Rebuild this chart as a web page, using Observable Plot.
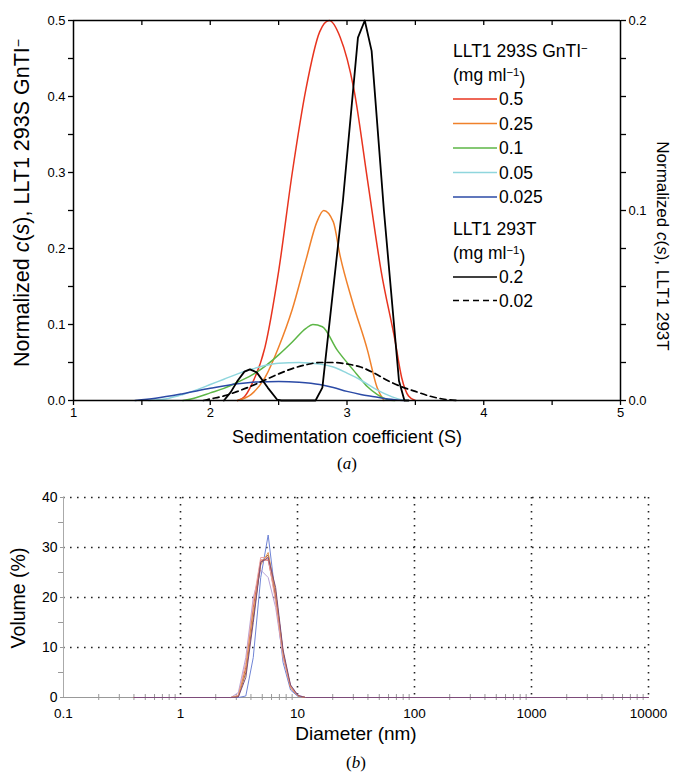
<!DOCTYPE html>
<html><head><meta charset="utf-8">
<script src="https://cdn.jsdelivr.net/npm/d3@7"></script>
<script src="https://cdn.jsdelivr.net/npm/@observablehq/plot@0.6"></script>
<style>
body{margin:0;background:#fff;font-family:"Liberation Sans",Arial,sans-serif;}
#wrap{width:682px;}
svg{display:block;}
</style></head><body><div id="wrap"></div>
<script>
// ---------- (a) c(s) distributions ----------
// LLT1 293S GnTI- concentrations (mg/ml), left axis
const gntiConc = ["0.5", "0.25", "0.1", "0.05", "0.025"];
const s_05 = [2.2, 2.25, 2.3, 2.4, 2.5, 2.6, 2.7, 2.8, 2.87, 2.95, 3.05, 3.15, 3.25, 3.35, 3.4, 3.45, 3.5];
const c_05 = [0, 0.005, 0.02, 0.07, 0.17, 0.30, 0.41, 0.485, 0.5, 0.478, 0.41, 0.29, 0.17, 0.08, 0.03, 0.006, 0];
const s_025 = [2.2, 2.3, 2.4, 2.5, 2.6, 2.7, 2.78, 2.83, 2.9, 2.95, 3.04, 3.15, 3.22, 3.27];
const c_025 = [0, 0.008, 0.03, 0.07, 0.12, 0.185, 0.235, 0.25, 0.235, 0.19, 0.13, 0.066, 0.017, 0];
const s_01 = [1.8, 1.9, 2.0, 2.1, 2.2, 2.3, 2.4, 2.5, 2.6, 2.7, 2.75, 2.82, 2.93, 3.0, 3.07, 3.15, 3.22, 3.3, 3.35];
const c_01 = [0, 0.004, 0.01, 0.016, 0.024, 0.033, 0.045, 0.06, 0.077, 0.095, 0.1, 0.097, 0.066, 0.05, 0.035, 0.018, 0.008, 0.001, 0];
const s_005 = [1.55, 1.7, 1.8, 1.9, 2.0, 2.1, 2.2, 2.3, 2.4, 2.5, 2.65, 2.8, 2.9, 3.0, 3.1, 3.2, 3.3, 3.4, 3.45];
const c_005 = [0, 0.003, 0.008, 0.014, 0.021, 0.028, 0.035, 0.041, 0.046, 0.049, 0.05, 0.048, 0.044, 0.036, 0.027, 0.016, 0.007, 0.001, 0];
const s_0025 = [1.45, 1.6, 1.8, 2.0, 2.2, 2.35, 2.5, 2.65, 2.8, 2.9, 3.0, 3.1, 3.2, 3.3, 3.42];
const c_0025 = [0, 0.003, 0.009, 0.016, 0.022, 0.0245, 0.025, 0.024, 0.021, 0.017, 0.012, 0.008, 0.005, 0.002, 0];
// LLT1 293T concentrations (mg/ml), right axis values
const t293Conc = ["0.2", "0.02"];
const s_02 = [2.1, 2.15, 2.2, 2.25, 2.29, 2.34, 2.42, 2.49, 2.52, 2.77, 2.82, 2.97, 3.08, 3.13, 3.18, 3.27, 3.38, 3.42, 3.45];
const c_02 = [0, 0.0044, 0.0104, 0.0152, 0.0164, 0.0148, 0.0068, 0.0004, 0, 0, 0.0068, 0.105, 0.191, 0.2, 0.184, 0.1, 0.0104, 0, 0];
const s_002 = [1.95, 2.0, 2.1, 2.2, 2.3, 2.4, 2.5, 2.6, 2.7, 2.8, 2.9, 3.0, 3.1, 3.2, 3.3, 3.4, 3.5, 3.6, 3.7, 3.8];
const c_002 = [0, 0.0008, 0.0024, 0.0048, 0.0076, 0.0108, 0.014, 0.0168, 0.0188, 0.02, 0.02, 0.0192, 0.0176, 0.0144, 0.0104, 0.0072, 0.0048, 0.0024, 0.0008, 0];

const xTicksA = [1, 2, 3, 4, 5];
const xMinorA = [1.5, 2.5, 3.5, 4.5];
const yTicksLeft = [0, 0.1, 0.2, 0.3, 0.4, 0.5];
const yMinorLeft = [0.05, 0.15, 0.25, 0.35, 0.45];
const yTicksRight = [0, 0.1, 0.2];
const yMinorRight = [0.02, 0.04, 0.06, 0.08, 0.12, 0.14, 0.16, 0.18];

// ---------- (b) DLS volume distributions ----------
const diam = [0.4, 2.696, 3.122, 3.615, 4.187, 4.849, 5.615, 6.503, 7.531, 8.721, 10.1, 11.7, 10000];
const vol1 = [0, 0, 0, 0.3, 8, 24, 32.5, 20, 7, 1.5, 0.2, 0, 0];
const vol2 = [0, 0, 1, 8, 20, 25.5, 24, 18, 8, 2.5, 0.5, 0, 0];
const vol3 = [0, 0, 0.2, 5, 16, 27, 28.5, 21, 9, 2, 0.3, 0, 0];
const vol4 = [0, 0, 0.3, 6, 18, 27.5, 27.5, 20, 8.5, 2, 0.3, 0, 0];
const vol5 = [0, 0, 0.5, 7, 19, 28, 28, 19, 8, 2, 0.3, 0, 0];
const vol6 = [0, 0, 0.3, 5.5, 17, 26.5, 29, 21, 9, 2.2, 0.3, 0, 0];
const vol7 = [0, 0, 0.1, 4, 15, 27, 28, 22, 9.5, 2.5, 0.4, 0, 0];
const xTicksB = [0.1, 1, 10, 100, 1000, 10000];
const yTicksB = [0, 10, 20, 30, 40];
const yMinorB = [5, 15, 25, 35];

// ---------- styles ----------
const gntiColors = ["#e8341f", "#f0812b", "#5cb646", "#8fd6dd", "#2b4aa6"];
const dlsColors = ["#6f84d6", "#b8a3d8", "#8b5a35", "#cf4b3d", "#e9a3a3", "#e39a57", "#7d4b7a"];
const RATIO = 2.5; // left units per right unit (0.5 vs 0.2)

const wrap = document.getElementById("wrap");

// ---- chart (a)
const gntiS = [s_05, s_025, s_01, s_005, s_0025];
const gntiC = [c_05, c_025, c_01, c_005, c_0025];
const toRows = (xs, ys, k) => xs.map((x, i) => ({s: x, c: ys[i], k}));

const marksA = [];
gntiS.forEach((xs, j) => {
  marksA.push(Plot.line(toRows(xs, gntiC[j], gntiConc[j]), {x: "s", y: "c", stroke: gntiColors[j], strokeWidth: 1.5, curve: "monotone-x"}));
});
marksA.push(Plot.line(toRows(s_002, c_002, "0.02"), {x: "s", y: d => d.c * RATIO, stroke: "#000", strokeWidth: 1.7, strokeDasharray: "6,4", curve: "monotone-x"}));
marksA.push(Plot.line(toRows(s_02, c_02, "0.2"), {x: "s", y: d => d.c * RATIO, stroke: "#000", strokeWidth: 1.8}));

const plotA = Plot.plot({
  width: 682, height: 478,
  marginLeft: 73, marginRight: 62, marginTop: 20, marginBottom: 78,
  style: {fontFamily: "Liberation Sans, Arial, sans-serif", fontSize: "13px", color: "#000", background: "#fff"},
  x: {domain: [1, 5], axis: null},
  y: {domain: [0, 0.5], axis: null},
  marks: [
    ...marksA,
    Plot.ruleY([0, 0.5], {stroke: "#000", strokeWidth: 1.5}),
    Plot.ruleX([1, 5], {stroke: "#000", strokeWidth: 1.5}),
    // left axis
    Plot.axisY({anchor: "left", ticks: yTicksLeft, tickSize: 5, tickPadding: 3, tickFormat: d3.format(".1f"), fontSize: 13, label: null, strokeWidth: 1.3}),
    Plot.axisY({anchor: "left", ticks: yMinorLeft, tickSize: 5, text: null, label: null, strokeWidth: 1.3}),
    // right axis
    Plot.axisY({anchor: "right", ticks: yTicksRight.map(v => v * RATIO), tickSize: 5, tickPadding: 3, tickFormat: d => (d / RATIO).toFixed(1), fontSize: 13, label: null, strokeWidth: 1.3}),
    Plot.axisY({anchor: "right", ticks: yMinorRight.map(v => v * RATIO), tickSize: 5, text: null, label: null, strokeWidth: 1.3}),
    // bottom axis
    Plot.axisX({anchor: "bottom", ticks: xTicksA, tickSize: 5, tickPadding: 2, fontSize: 13, label: null, strokeWidth: 1.3, tickFormat: d3.format("d")}),
    Plot.axisX({anchor: "bottom", ticks: xMinorA, tickSize: 5, text: null, label: null, strokeWidth: 1.3}),
    // top inward ticks
    Plot.ruleX([...xMinorA, 2, 3, 4], {x: d => d, y1: 0.5, y2: 0.5, insetBottom: -5, stroke: "#000", strokeWidth: 1.3})
  ]
});
wrap.appendChild(plotA);

// titles and legend for (a)
const svgA = d3.select(plotA);
const ff = "Liberation Sans, Arial, sans-serif";
function sup(t, str) { t.append("tspan").attr("dy", "-0.45em").attr("font-size", "0.65em").text(str); }

let t = svgA.append("text").attr("x", 347).attr("y", 443).attr("text-anchor", "middle").attr("font-size", 18).attr("font-family", ff).text("Sedimentation coefficient (S)");
t = svgA.append("text").attr("x", 347).attr("y", 469).attr("text-anchor", "middle").attr("font-size", 17).attr("font-family", "Liberation Serif, Times New Roman, serif");
t.append("tspan").text("(");
t.append("tspan").attr("font-style", "italic").text("a");
t.append("tspan").text(")");

// left title
t = svgA.append("text").attr("transform", "translate(29,203) rotate(-90)").attr("text-anchor", "middle").attr("font-size", 21.5).attr("font-family", ff);
t.append("tspan").text("Normalized ");
t.append("tspan").attr("font-style", "italic").text("c");
t.append("tspan").text("(");
t.append("tspan").attr("font-style", "italic").text("s");
t.append("tspan").text("), LLT1 293S GnTI");
sup(t, "−");
// right title
t = svgA.append("text").attr("transform", "translate(657,246) rotate(90)").attr("text-anchor", "middle").attr("font-size", 17).attr("font-family", ff);
t.append("tspan").text("Normalized ");
t.append("tspan").attr("font-style", "italic").text("c");
t.append("tspan").text("(");
t.append("tspan").attr("font-style", "italic").text("s");
t.append("tspan").text("), LLT1 293T");

// legend
const lg = svgA.append("g").attr("font-family", ff).attr("font-size", 17.5).attr("text-anchor", "start");
function header(y, main, supTxt) {
  const tt = lg.append("text").attr("x", 453).attr("y", y);
  tt.append("tspan").text(main);
  if (supTxt) sup(tt, supTxt);
}
function unitLine(y) {
  const tt = lg.append("text").attr("x", 453).attr("y", y);
  tt.append("tspan").text("(mg ml");
  tt.append("tspan").attr("dy", "-0.45em").attr("font-size", "0.65em").text("−1");
  tt.append("tspan").attr("dy", "0.45em").text(")");
}
header(57, "LLT1 293S GnTI", "−");
unitLine(81);
gntiConc.forEach((c, j) => {
  const y = 99 + j * 24.5;
  lg.append("line").attr("x1", 453).attr("x2", 497).attr("y1", y).attr("y2", y).attr("stroke", gntiColors[j]).attr("stroke-width", 1.5);
  lg.append("text").attr("x", 499).attr("y", y + 6.3).text(c);
});
header(235, "LLT1 293T");
unitLine(259);
t293Conc.forEach((c, j) => {
  const y = 277 + j * 23.5;
  lg.append("line").attr("x1", 453).attr("x2", 497).attr("y1", y).attr("y2", y).attr("stroke", "#000").attr("stroke-width", 1.7).attr("stroke-dasharray", j ? "6,4" : null);
  lg.append("text").attr("x", 499).attr("y", y + 6.3).text(c);
});

// ---- chart (b)
const vols = [vol1, vol2, vol3, vol4, vol5, vol6, vol7];
const marksB = vols.map((v, j) => Plot.line(diam.map((d, i) => ({d, v: v[i]})), {x: "d", y: "v", stroke: dlsColors[j], strokeWidth: 1}));

const xScaleTmp = d3.scaleLog().domain([0.1, 10000]);
const minorLog = xScaleTmp.ticks().filter(v => !xTicksB.includes(v));
const dotted = {stroke: "#222", strokeWidth: 1.6, strokeDasharray: "1.6,5.4"};

const plotB = Plot.plot({
  width: 682, height: 296,
  marginLeft: 63, marginRight: 34, marginTop: 19, marginBottom: 77,
  style: {fontFamily: "Liberation Sans, Arial, sans-serif", fontSize: "13px", color: "#000", background: "#fff"},
  x: {type: "log", domain: [0.1, 10000], axis: null},
  y: {domain: [0, 40], axis: null},
  marks: [
    Plot.ruleY(yTicksB.filter(v => v > 0), {...dotted}),
    Plot.ruleX(xTicksB.filter(v => v > 0.1), {...dotted}),
    Plot.ruleY([0], {stroke: "#999", strokeWidth: 1}),
    Plot.ruleX([0.1], {stroke: "#aaa", strokeWidth: 1}),
    Plot.ruleX(minorLog, {x: d => d, y1: 0, y2: 0, insetTop: -3, insetBottom: -3, stroke: "#999", strokeWidth: 1}),
    Plot.axisY({anchor: "left", ticks: yMinorB, tickSize: 5, text: null, label: null, stroke: "#999"}),
    Plot.axisY({anchor: "left", ticks: yTicksB, tickSize: 3, tickPadding: 3, fontSize: 14, label: null, stroke: "#999"}),
    Plot.axisX({anchor: "bottom", ticks: xTicksB, tickSize: 0, tickPadding: 11, fontSize: 13.5, label: null, tickFormat: d => String(d)}),
    ...marksB
  ]
});
wrap.appendChild(plotB);
const svgB = d3.select(plotB);
svgB.append("text").attr("x", 356).attr("y", 262).attr("text-anchor", "middle").attr("font-size", 19).attr("font-family", ff).text("Diameter (nm)");
t = svgB.append("text").attr("x", 356).attr("y", 290).attr("text-anchor", "middle").attr("font-size", 17).attr("font-family", "Liberation Serif, Times New Roman, serif");
t.append("tspan").text("(");
t.append("tspan").attr("font-style", "italic").text("b");
t.append("tspan").text(")");
svgB.append("text").attr("transform", "translate(25,120) rotate(-90)").attr("text-anchor", "middle").attr("font-size", 19.5).attr("font-family", ff).text("Volume (%)");
</script>
</body></html>
